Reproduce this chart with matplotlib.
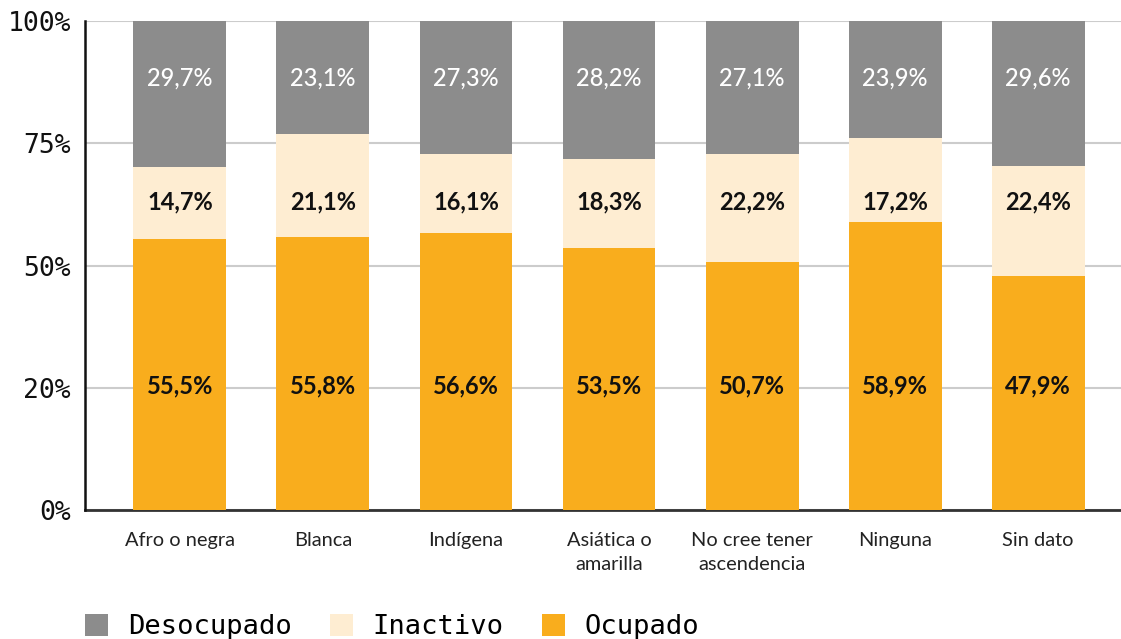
import matplotlib
matplotlib.use("Agg")
import matplotlib.pyplot as plt
import numpy as np

categories = ["Afro o negra", "Blanca", "Indígena", "Asiática o\namarilla",
              "No cree tener\nascendencia", "Ninguna", "Sin dato"]
ocupado = [55.5, 55.8, 56.6, 53.5, 50.7, 58.9, 47.9]
inactivo = [14.7, 21.1, 16.1, 18.3, 22.2, 17.2, 22.4]
desocupado = [29.7, 23.1, 27.3, 28.2, 27.1, 23.9, 29.6]
ytick_vals = [0, 25, 50, 75, 100]
ytick_labels = ["0%", "20%", "50%", "75%", "100%"]

c_ocu = "#f9ad1d"
c_ina = "#feedd2"
c_des = "#8c8c8c"

fig = plt.figure(figsize=(11.21, 6.39), dpi=100)
ax = fig.add_axes([85 / 1121, 129 / 639, 1036 / 1121, 489 / 639])

x = np.arange(len(categories))
w = 0.65
ocu = np.array(ocupado)
ina = np.array(inactivo)
des = np.array(desocupado)
ax.bar(x, ocu, w, color=c_ocu, zorder=3, label="Ocupado")
ax.bar(x, ina, w, bottom=ocu, color=c_ina, zorder=3, label="Inactivo")
top_des = 100 - (ocu + ina)
ax.bar(x, top_des, w, bottom=ocu + ina, color=c_des, zorder=3, label="Desocupado")

fmt = lambda v: f"{v:.1f}".replace(".", ",") + "%"
lab_font = "Lato"
for i in range(len(x)):
    ax.text(x[i], 88.4, fmt(desocupado[i]), ha="center", va="center", color="white",
            fontsize=17, family=lab_font, fontweight="medium", zorder=4)
    ax.text(x[i], 63.0, fmt(inactivo[i]), ha="center", va="center", color="#111111",
            fontsize=17, family=lab_font, fontweight="bold", zorder=4)
    ax.text(x[i], 25.4, fmt(ocupado[i]), ha="center", va="center", color="#111111",
            fontsize=17, family=lab_font, fontweight="bold", zorder=4)

ax.set_xlim(-0.664, 6.58)
ax.set_ylim(0, 100)
ax.set_yticks(ytick_vals)
ax.set_yticklabels(ytick_labels, family="DejaVu Sans Mono", fontsize=19, color="#111111")
ax.tick_params(axis="y", length=0, pad=10)
ax.set_xticks(x)
ax.set_xticklabels(categories, family=lab_font, fontsize=14.4, color="#222222",
                   linespacing=1.5, va="top")
ax.tick_params(axis="x", length=0, pad=16)
ax.yaxis.grid(True, color="#cccccc", linewidth=1.5, zorder=0)
for s in ["top", "right"]:
    ax.spines[s].set_visible(False)
ax.spines["left"].set_color("#111111")
ax.spines["left"].set_linewidth(1.8)
ax.spines["bottom"].set_color("#333333")
ax.spines["bottom"].set_linewidth(2)
ax.spines["left"].set_zorder(5)

h, l = ax.get_legend_handles_labels()
order = [2, 1, 0]
leg = fig.legend([h[i] for i in order], [l[i] for i in order],
                 loc="center left", bbox_to_anchor=(85 / 1121, 12 / 639), ncol=3,
                 frameon=False, borderpad=0, borderaxespad=0,
                 handlelength=0.85, handleheight=0.85, handletextpad=0.74,
                 columnspacing=1.4,
                 prop={"family": "DejaVu Sans Mono", "size": 19.5})

fig.savefig("out.png", dpi=100)
